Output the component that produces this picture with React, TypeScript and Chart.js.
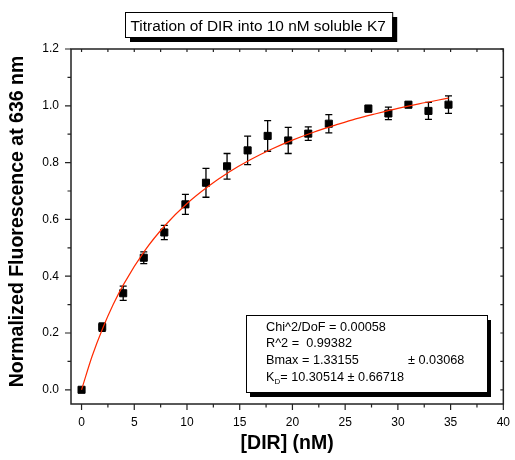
import { useEffect, useRef } from 'react';
import { Chart, registerables } from 'chart.js';

Chart.register(...registerables);

const FONT = "'Liberation Sans', Arial, Helvetica, sans-serif";

// Measured data: [DIR] concentration (nM), normalized fluorescence, error
const concentrations = [0, 1.96, 3.95, 5.9, 7.85, 9.85, 11.8, 13.8, 15.75, 17.65, 19.6, 21.5, 23.45, 27.2, 29.1, 31.0, 32.9, 34.8];
const fluorescence = [0.0, 0.221, 0.34, 0.465, 0.554, 0.653, 0.729, 0.787, 0.843, 0.894, 0.878, 0.902, 0.937, 0.99, 0.973, 1.004, 0.982, 1.004];
const errors = [0.005, 0.015, 0.025, 0.021, 0.025, 0.035, 0.051, 0.045, 0.05, 0.054, 0.046, 0.024, 0.032, 0.011, 0.022, 0.01, 0.03, 0.031];

// Fit curve
const fitX = [0, 1, 2, 3, 4, 6, 8, 10, 12, 14, 16, 18, 20, 22, 24, 26, 28, 30, 32, 34.8];
const fitY = [0, 0.118, 0.216, 0.3, 0.372, 0.49, 0.582, 0.656, 0.716, 0.767, 0.81, 0.847, 0.879, 0.907, 0.931, 0.954, 0.973, 0.991, 1.007, 1.027];

const xTicks = [0, 5, 10, 15, 20, 25, 30, 35, 40];
const yTicks = [0.0, 0.2, 0.4, 0.6, 0.8, 1.0, 1.2];

const titleText = 'Titration of DIR into 10 nM soluble K7';
const yTitleText = 'Normalized Fluorescence at 636 nm';
const xTitleText = '[DIR] (nM)';
const statsLines = ['Chi^2/DoF = 0.00058', 'R^2 =  0.99382', 'Bmax = 1.33155'];
const bmaxErr = '\u00B1 0.03068';
const kdText = '= 10.30514 \u00B1 0.66718';

const decorPlugin = {
  id: 'decor',
  beforeDatasetsDraw(chart: any) {
    const { ctx, scales } = chart;
    const x = scales.x;
    const y = scales.y;
    ctx.save();
    ctx.strokeStyle = '#000';
    ctx.lineWidth = 1.3;
    concentrations.forEach((c, i) => {
      const px = x.getPixelForValue(c);
      const top = y.getPixelForValue(fluorescence[i] + errors[i]);
      const bot = y.getPixelForValue(fluorescence[i] - errors[i]);
      ctx.beginPath();
      ctx.moveTo(px, top);
      ctx.lineTo(px, bot);
      ctx.moveTo(px - 3.5, top);
      ctx.lineTo(px + 3.5, top);
      ctx.moveTo(px - 3.5, bot);
      ctx.lineTo(px + 3.5, bot);
      ctx.stroke();
    });
    ctx.restore();
  },
  afterDraw(chart: any) {
    const { ctx, chartArea, scales } = chart;
    const x = scales.x;
    const y = scales.y;
    const { left, right, top, bottom } = chartArea;
    ctx.save();
    // frame
    ctx.strokeStyle = '#222';
    ctx.lineWidth = 1.5;
    ctx.strokeRect(left, top, right - left, bottom - top);
    // ticks
    ctx.lineWidth = 1.2;
    ctx.beginPath();
    const xStep = xTicks[1] - xTicks[0];
    xTicks.forEach((v) => {
      const px = x.getPixelForValue(v);
      ctx.moveTo(px, bottom);
      ctx.lineTo(px, bottom + 6);
      ctx.moveTo(px, top);
      ctx.lineTo(px, top + 3);
      const m = v + xStep / 2;
      if (m < x.max) {
        const pm = x.getPixelForValue(m);
        ctx.moveTo(pm, bottom);
        ctx.lineTo(pm, bottom + 3.5);
        ctx.moveTo(pm, top);
        ctx.lineTo(pm, top + 3);
      }
    });
    const yStep = yTicks[1] - yTicks[0];
    yTicks.forEach((v) => {
      const py = y.getPixelForValue(v);
      ctx.moveTo(left, py);
      ctx.lineTo(left - 6, py);
      ctx.moveTo(right, py);
      ctx.lineTo(right - 3, py);
      const m = v + yStep / 2;
      if (m < y.max) {
        const pm = y.getPixelForValue(m);
        ctx.moveTo(left, pm);
        ctx.lineTo(left - 3.5, pm);
        ctx.moveTo(right, pm);
        ctx.lineTo(right - 3, pm);
      }
    });
    ctx.stroke();

    // y axis title
    ctx.save();
    ctx.translate(18, 221.5);
    ctx.rotate(-Math.PI / 2);
    ctx.font = `bold 19.5px ${FONT}`;
    ctx.fillStyle = '#000';
    ctx.textAlign = 'center';
    ctx.textBaseline = 'middle';
    ctx.fillText(yTitleText, 0, 0);
    ctx.restore();

    // x axis title
    ctx.font = `bold 19.5px ${FONT}`;
    ctx.fillStyle = '#000';
    ctx.textAlign = 'center';
    ctx.textBaseline = 'middle';
    ctx.fillText(xTitleText, (left + right) / 2, 444);
    ctx.textAlign = 'left';

    // title box
    ctx.font = `15.4px ${FONT}`;
    const tw = ctx.measureText(titleText).width;
    const bx = 125, by = 12, bw = tw + 12, bh = 25;
    ctx.fillStyle = '#000';
    ctx.fillRect(bx + 5, by + 5, bw, bh);
    ctx.fillStyle = '#fff';
    ctx.fillRect(bx, by, bw, bh);
    ctx.strokeStyle = '#000';
    ctx.lineWidth = 1;
    ctx.strokeRect(bx + 0.5, by + 0.5, bw, bh);
    ctx.fillStyle = '#000';
    ctx.textBaseline = 'alphabetic';
    ctx.fillText(titleText, bx + 5.5, by + 18.5);

    // stats box
    const sx = 246, sy = 315, sw = 241, sh = 77;
    ctx.fillStyle = '#000';
    ctx.fillRect(sx + 4, sy + 5, sw, sh);
    ctx.fillStyle = '#fff';
    ctx.fillRect(sx, sy, sw, sh);
    ctx.strokeRect(sx + 0.5, sy + 0.5, sw, sh);
    ctx.fillStyle = '#000';
    ctx.font = `12.7px ${FONT}`;
    ctx.textBaseline = 'middle';
    const tx = 266;
    statsLines.forEach((s, i) => {
      ctx.fillText(s, tx, 327 + i * 16.7);
    });
    ctx.fillText(bmaxErr, 408, 327 + 2 * 16.7);
    const ky = 327 + 3 * 16.7;
    ctx.fillText('K', tx, ky);
    const kw = ctx.measureText('K').width;
    ctx.font = `8px ${FONT}`;
    ctx.fillText('D', tx + kw, ky + 5);
    const dw = ctx.measureText('D').width;
    ctx.font = `12.7px ${FONT}`;
    ctx.fillText(kdText, tx + kw + dw, ky);
    ctx.restore();
  },
};

export default function App() {
  const canvasRef = useRef<HTMLCanvasElement | null>(null);

  useEffect(() => {
    const canvas = canvasRef.current;
    if (!canvas) return;
    const chart = new Chart(canvas, {
      type: 'scatter',
      data: {
        datasets: [
          {
            label: 'Fit',
            data: fitX.map((v, i) => ({ x: v, y: fitY[i] })),
            showLine: true,
            borderColor: '#ff2a00',
            borderWidth: 1.2,
            pointRadius: 0,
            cubicInterpolationMode: 'monotone',
            fill: false,
          },
          {
            label: 'Data',
            data: concentrations.map((v, i) => ({ x: v, y: fluorescence[i] })),
            showLine: false,
            pointStyle: 'rect',
            pointRadius: 5,
            pointBorderWidth: 1,
            pointBackgroundColor: '#000',
            pointBorderColor: '#000',
          },
        ],
      },
      options: {
        animation: false,
        responsive: false,
        layout: { padding: { top: 49, right: 9, left: 0, bottom: 0 } },
        plugins: { legend: { display: false }, tooltip: { enabled: false } },
        scales: {
          x: {
            type: 'linear',
            min: -1,
            max: 40,
            afterBuildTicks: (s: any) => {
              s.ticks = xTicks.map((v) => ({ value: v }));
            },
            afterFit: (s: any) => {
              s.height = 56;
            },
            grid: { display: false, drawTicks: true, tickLength: 6 },
            border: { display: false },
            ticks: {
              color: '#000',
              font: { size: 12, family: FONT },
              padding: 5,
              maxRotation: 0,
              autoSkip: false,
              callback: (v: any) => String(v),
            },
            title: { display: false },
          },
          y: {
            type: 'linear',
            min: -0.05,
            max: 1.2,
            afterBuildTicks: (s: any) => {
              s.ticks = yTicks.map((v) => ({ value: v }));
            },
            afterFit: (s: any) => {
              s.width = 71;
            },
            grid: { display: false, drawTicks: true, tickLength: 6 },
            border: { display: false },
            ticks: {
              color: '#000',
              font: { size: 12, family: FONT },
              padding: 6,
              autoSkip: false,
              callback: (v: any) => Number(v).toFixed(1),
            },
            title: { display: false },
          },
        },
      },
      plugins: [decorPlugin],
    } as any);
    return () => chart.destroy();
  }, []);

  return (
    <div style={{ position: 'fixed', left: 0, top: 0, width: 515, height: 460, background: '#fff' }}>
      <canvas ref={canvasRef} width={515} height={460} style={{ width: 515, height: 460 }} />
    </div>
  );
}
